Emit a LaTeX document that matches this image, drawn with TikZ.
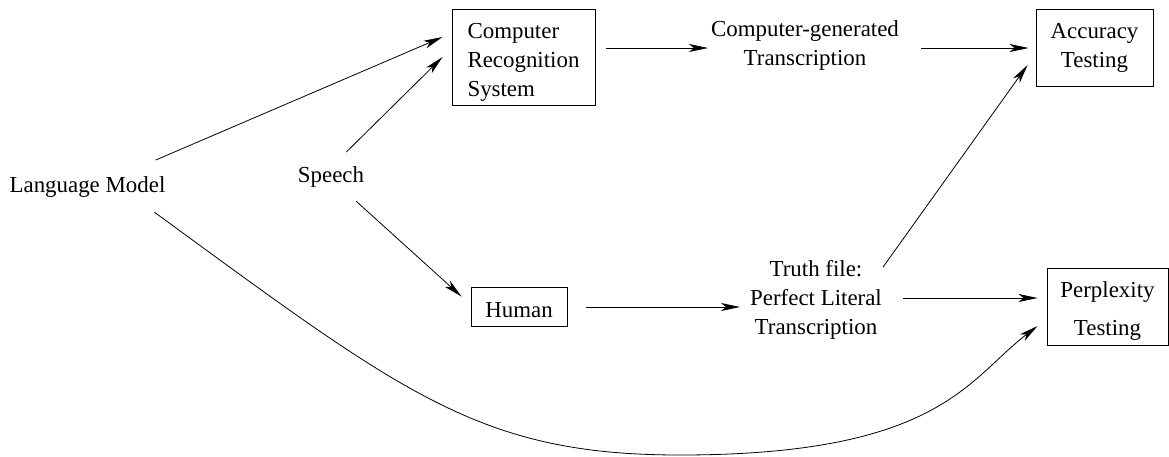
\documentclass[tikz,border=0pt]{standalone}
\usepackage{fontspec}
\setmainfont{Liberation Serif}
\usetikzlibrary{arrows.meta,calc}

\begin{document}
\begin{tikzpicture}[x=1pt,y=-1pt,
    every node/.style={inner sep=0pt,font=\fontsize{22.9}{29}\selectfont},
    txt/.style={align=center},
    box/.style={draw,line width=0.9pt,align=center},
    flow/.style={line width=0.8pt,-{Stealth[length=19pt,width=8pt,inset=5pt]}}]
  \useasboundingbox (0,0) rectangle (1169,456);

  % free-standing labels
  \node[txt] (lm) at (87.5,186.7) {Language Model};
  \node[txt] (sp) at (331,176.7) {Speech};
  \node[txt] (cg) at (805,45.7) {Computer-generated\\Transcription};
  \node[txt] (truth) at (816,300.2) {Truth file:\\Perfect Literal\\Transcription};

  % boxed stages (the rule lowers the text inside the frame)
  \node[box,align=left,minimum width=143pt,minimum height=96pt] (crs) at (523.5,57)
       {\rule{0pt}{25pt}Computer\\Recognition\\System};
  \node[box,minimum width=117pt,minimum height=77pt] (acc) at (1094.5,47.5)
       {Accuracy\\Testing};
  \node[box,minimum width=96pt,minimum height=39pt] (hum) at (519,306.5)
       {\rule{0pt}{22pt}Human};
  \node[box,minimum width=121pt,minimum height=77pt,
        font=\fontsize{22.9}{38}\selectfont] (perp) at (1107.5,306.5)
       {\rule{0pt}{25pt}Perplexity\\Testing};

  % connectors
  \draw[flow] ($(lm.north east)+(-10,-16)$) -- ($(crs.west)+(-9,-20)$);
  \draw[flow] ($(sp.north east)+(-18,-14)$) -- ($(crs.west)+(-9,0)$);
  \draw[flow] ($(sp.south east)+(-8,14)$) -- ($(hum.north west)+(-9,10)$);
  \draw[flow] ($(crs.east)+(11,-9)$) -- ($(cg.west)+(-3,2.3)$);
  \draw[flow] ($(cg.east)+(22,2.3)$) -- ($(acc.west)+(-7,0.5)$);
  \draw[flow] ($(hum.east)+(19,0.5)$) -- ($(truth.west)+(-10,6.8)$);
  \draw[flow] ($(truth.north east)+(1,6.6)$) -- ($(acc.west)+(-8,17.5)$);
  \draw[flow] ($(truth.east)+(21,-2.2)$) -- ($(perp.west)+(-9,-8.5)$);
  \draw[flow] ($(lm.south east)+(-11,15)$)
      .. controls (404,394.5) and (480,455) .. (680,455)
      .. controls (940,455) and (968,379) .. ($(perp.west)+(-9,19.5)$);
\end{tikzpicture}
\end{document}
